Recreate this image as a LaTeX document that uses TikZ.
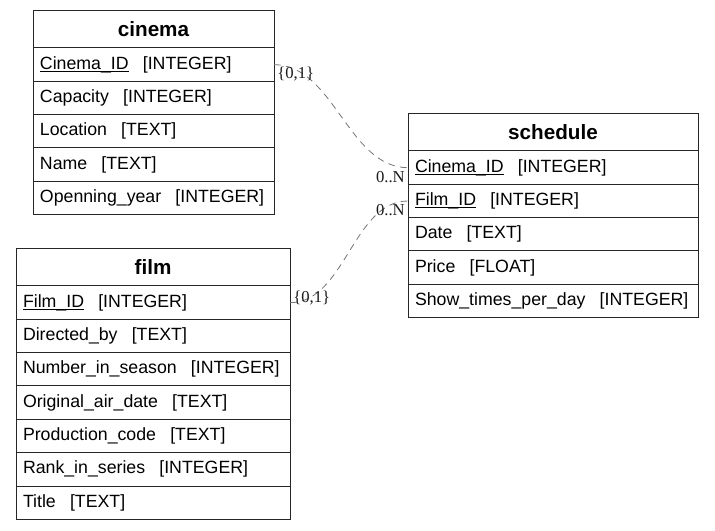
\documentclass[tikz,border=0pt]{standalone}
\usepackage{fontspec}
\setmainfont{Liberation Sans}
\newfontfamily\lblfont{Liberation Serif}
\usetikzlibrary{calc}
\newcommand\tsep{\hspace{0.8em}}
\newcommand\pkey[1]{{\setbox0\hbox{#1}\rlap{\rule[-1.6pt]{\wd0}{0.6pt}}\box0}}
\begin{document}
\begin{tikzpicture}[x=0.75pt,y=-0.75pt,
  tbl/.style={draw=black!85, line width=0.75pt, anchor=north west, outer sep=0pt, inner ysep=0pt, inner xsep=5.25pt},
  ttl/.style={tbl, minimum height=27.75pt, text width=#1, align=center, font=\fontsize{15.5}{18}\selectfont\bfseries},
  fld/.style={tbl, minimum height=25pt, text width=#1, align=left, font=\fontsize{13.3}{15}\selectfont},
  rel/.style={draw=black!55, line width=0.6pt, dash pattern=on 5pt off 4pt},
  card/.style={font=\lblfont\fontsize{12.5}{14}\selectfont, inner sep=0pt, text=black!90}
]
\path[use as bounding box] (0,0) rectangle (715,531);

% cinema
\node[ttl=170.25pt] (cinema) at (33,11) {cinema};
\node[fld=170.25pt] (cinema1) at (cinema.south west) {\pkey{Cinema\_ID}\tsep[INTEGER]};
\node[fld=170.25pt] (cinema2) at (cinema1.south west) {Capacity\tsep[INTEGER]};
\node[fld=170.25pt] (cinema3) at (cinema2.south west) {Location\tsep[TEXT]};
\node[fld=170.25pt] (cinema4) at (cinema3.south west) {Name\tsep[TEXT]};
\node[fld=170.25pt] (cinema5) at (cinema4.south west) {Openning\_year\tsep[INTEGER]};

% schedule
\node[ttl=207pt] (schedule) at (408,114) {schedule};
\node[fld=207pt] (schedule1) at (schedule.south west) {\pkey{Cinema\_ID}\tsep[INTEGER]};
\node[fld=207pt] (schedule2) at (schedule1.south west) {\pkey{Film\_ID}\tsep[INTEGER]};
\node[fld=207pt] (schedule3) at (schedule2.south west) {Date\tsep[TEXT]};
\node[fld=207pt] (schedule4) at (schedule3.south west) {Price\tsep[FLOAT]};
\node[fld=207pt] (schedule5) at (schedule4.south west) {Show\_times\_per\_day\tsep[INTEGER]};

% film
\node[ttl=195pt] (film) at (16,249) {film};
\node[fld=195pt] (film1) at (film.south west) {\pkey{Film\_ID}\tsep[INTEGER]};
\node[fld=195pt] (film2) at (film1.south west) {Directed\_by\tsep[TEXT]};
\node[fld=195pt] (film3) at (film2.south west) {Number\_in\_season\tsep[INTEGER]};
\node[fld=195pt] (film4) at (film3.south west) {Original\_air\_date\tsep[TEXT]};
\node[fld=195pt] (film5) at (film4.south west) {Production\_code\tsep[TEXT]};
\node[fld=195pt] (film6) at (film5.south west) {Rank\_in\_series\tsep[INTEGER]};
\node[fld=195pt] (film7) at (film6.south west) {Title\tsep[TEXT]};

% relations
\draw[rel] (cinema1.east) .. controls +(60,0) and +(-60,0) .. (schedule1.west);
\draw[rel] (film1.east) .. controls +(55,0) and +(-55,0) .. (schedule2.west);

\node[card, anchor=north west] (c1a) at ($(cinema1.east)+(3,2)$) {\{0,1\}};
\node[card, anchor=north east] (c1b) at ($(schedule1.west)+(-3,3)$) {0..N};
\node[card, anchor=west] (c2a) at ($(film1.east)+(3,-5)$) {\{0,1\}};
\node[card, anchor=east] (c2b) at ($(schedule2.west)+(-3,9)$) {0..N};
\end{tikzpicture}
\end{document}
